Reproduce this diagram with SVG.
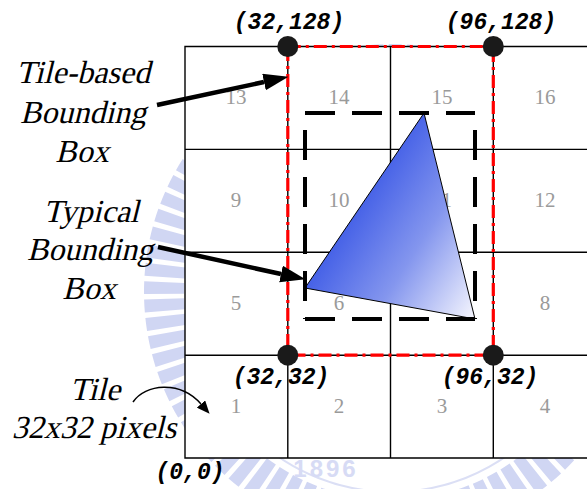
<svg xmlns="http://www.w3.org/2000/svg" width="587" height="489" viewBox="0 0 587 489">
<style>
.grid{stroke:#000;stroke-width:1.4;fill:none}
.num{font-family:'Liberation Serif','Times New Roman',serif;font-size:21px;fill:#9a9a9a;text-anchor:middle}
.lbl{font-family:'Liberation Serif','Times New Roman',serif;font-style:normal;font-size:32px;fill:#000;text-anchor:middle}
.coord{font-family:'Liberation Mono','Courier New',monospace;font-style:italic;font-weight:bold;font-size:23px;fill:#000;text-anchor:middle}
.redbox{stroke:#ff0000;stroke-width:3.2;fill:none;stroke-dasharray:13 5 3 5}
.dash{stroke:#000;stroke-width:4;fill:none;stroke-dasharray:30 17}
.corner{fill:#1a1a1a}
.arrow{stroke:#000;stroke-width:4.5;fill:none}
.thin{stroke:#000;stroke-width:1.5;fill:none}
</style>
<defs>
<linearGradient id="tri" gradientUnits="userSpaceOnUse" x1="330" y1="230" x2="470" y2="320">
<stop offset="0" stop-color="#3d5ae6"/>
<stop offset="0.5" stop-color="#8496ee"/>
<stop offset="1" stop-color="#f2f3fd"/>
</linearGradient>
<marker id="head" markerUnits="userSpaceOnUse" markerWidth="25" markerHeight="18" refX="0" refY="8.5" orient="auto">
<path d="M0,0 L25,8.5 L0,17 z" fill="#000"/>
</marker>
<marker id="headSmall" markerUnits="userSpaceOnUse" markerWidth="13" markerHeight="11" refX="0" refY="5.5" orient="auto">
<path d="M0,0 L13,5.5 L0,11 z" fill="#000"/>
</marker>
</defs>
<rect width="587" height="489" fill="#fff"/>
<g id="watermark" opacity="0.9">
<circle cx="392" cy="292" r="228" fill="none" stroke="#ccd2f2" stroke-width="40" stroke-dasharray="12 5"/>
<circle cx="392" cy="292" r="200" fill="none" stroke="#d8dcf5" stroke-width="2"/>
<text x="326" y="477" font-family="Liberation Sans,sans-serif" font-weight="bold" font-size="24" letter-spacing="3" fill="#d3d8f4" text-anchor="middle">1896</text>
</g>
<g id="grid">
<rect x="185" y="46.5" width="402" height="411.5" fill="#fff" stroke="none"/>
<path class="grid" d="M587,46.5 H185 V458 H587 M185,149.4 H587 M185,252.3 H587 M185,355.2 H587 M287.8,46.5 V458 M390.5,46.5 V458 M493.3,46.5 V458"/>
</g>
<g id="tile-numbers">
<text class="num" x="236" y="104">13</text>
<text class="num" x="339" y="104">14</text>
<text class="num" x="442" y="104">15</text>
<text class="num" x="545" y="104">16</text>
<text class="num" x="236" y="207">9</text>
<text class="num" x="339" y="207">10</text>
<text class="num" x="442" y="207">11</text>
<text class="num" x="545" y="207">12</text>
<text class="num" x="236" y="310">5</text>
<text class="num" x="339" y="310">6</text>
<text class="num" x="442" y="310">7</text>
<text class="num" x="545" y="310">8</text>
<text class="num" x="236" y="413">1</text>
<text class="num" x="339" y="413">2</text>
<text class="num" x="442" y="413">3</text>
<text class="num" x="545" y="413">4</text>
</g>
<g id="triangle">
<polygon points="424,113 305,288 475,319" fill="url(#tri)" stroke="#000" stroke-width="1"/>
</g>
<g id="typical-bbox">
<path class="dash" d="M305,113 H475"/>
<path class="dash" d="M305,319 H475"/>
<path class="dash" stroke-dashoffset="30" d="M305,113 V319"/>
<path class="dash" stroke-dashoffset="30" d="M475,113 V319"/>
</g>
<g id="tile-bbox">
<rect class="redbox" x="287.8" y="46.5" width="205.5" height="308.7"/>
</g>
<g id="corners">
<circle class="corner" cx="287.8" cy="46.5" r="10.5"/>
<circle class="corner" cx="493.3" cy="46.5" r="10.5"/>
<circle class="corner" cx="287.8" cy="355.2" r="10.5"/>
<circle class="corner" cx="493.3" cy="355.2" r="10.5"/>
</g>
<g id="coords">
<text class="coord" x="289" y="29">(32,128)</text>
<text class="coord" x="501" y="29">(96,128)</text>
<text class="coord" x="281" y="384">(32,32)</text>
<text class="coord" x="490" y="384">(96,32)</text>
<text class="coord" x="190" y="479">(0,0)</text>
</g>
<g id="label-tile-based">
<text class="lbl" transform="translate(83,83) skewX(-14)">Tile-based</text>
<text class="lbl" transform="translate(83,123) skewX(-14)">Bounding</text>
<text class="lbl" transform="translate(82,162) skewX(-14)">Box</text>
</g>
<g id="label-typical">
<text class="lbl" transform="translate(91,222) skewX(-14)">Typical</text>
<text class="lbl" transform="translate(90,260) skewX(-14)">Bounding</text>
<text class="lbl" transform="translate(89,299) skewX(-14)">Box</text>
</g>
<g id="label-tile">
<text class="lbl" transform="translate(95,400) skewX(-14)">Tile</text>
<text class="lbl" transform="translate(94,438) skewX(-14)">32x32 pixels</text>
</g>
<g id="connectors">
<path class="arrow" d="M157,105 L264,82" marker-end="url(#head)"/>
<path class="arrow" d="M158,247 L281,274" marker-end="url(#head)"/>
<path class="thin" d="M133,402 C145,384 180,380 201,404" marker-end="url(#headSmall)"/>
</g>
</svg>
